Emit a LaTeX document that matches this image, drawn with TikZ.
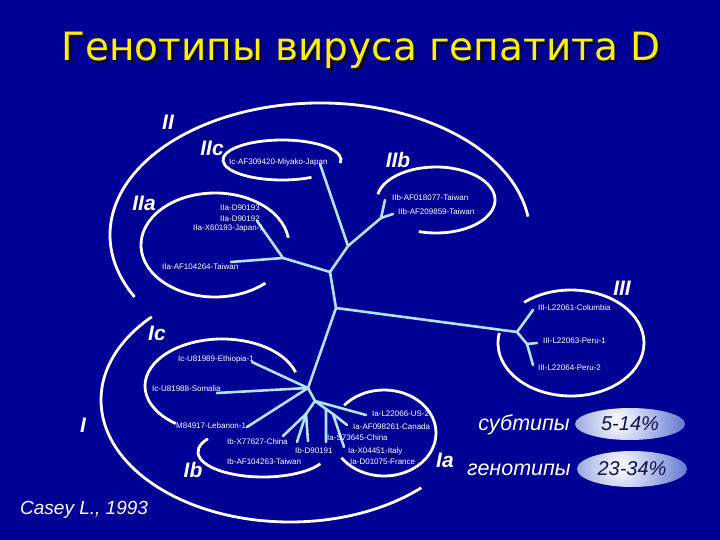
\documentclass[tikz,border=0pt]{standalone}
\usepackage{fontspec}
\setmainfont{Liberation Sans}
\newfontfamily\titlefont{DejaVu Sans}
\usetikzlibrary{shapes.geometric}
\definecolor{bg}{RGB}{0,0,148}
\definecolor{tree}{RGB}{175,228,250}
\definecolor{ttl}{RGB}{255,240,0}
\definecolor{ttlshadow}{RGB}{10,10,40}
\definecolor{pct}{RGB}{15,15,85}
\definecolor{pctblue}{RGB}{70,95,200}
\newcommand{\ttltext}{Генотипы вируса гепатита D}
\begin{document}
\begin{tikzpicture}[x=1pt,y=-1pt,
  arcline/.style={draw=white, line width=2.8pt},
  branch/.style={draw=tree, line width=2.6pt, line cap=round, line join=round},
  leaf/.style={font=\fontsize{8}{9}\selectfont, text=white, inner sep=0pt, anchor=west},
  grp/.style={font=\fontsize{21}{24}\selectfont\bfseries\itshape, text=white, inner sep=0pt},
  side/.style={font=\fontsize{21.5}{24}\selectfont\itshape, text=white, inner sep=0pt, anchor=east},
  pctoval/.style={ellipse, minimum width=110pt, inner sep=0pt,
    path picture={\shade[inner color=white, outer color=pctblue]
      ([xshift=-12pt,yshift=3pt]path picture bounding box.center) circle (80pt);}},
  pcttext/.style={font=\fontsize{20}{24}\selectfont\itshape, text=pct}
]
\useasboundingbox (0,0) rectangle (720,540);
\fill[bg] (0,0) rectangle (720,540);

% title (with its shadow in the same node)
\node[font=\titlefont\fontsize{39}{46}\selectfont, inner sep=0pt] (title) at (361,52)
  {\makebox[0pt][l]{\hspace{2.5pt}\raisebox{-2.5pt}{\color{ttlshadow}\ttltext}}\color{ttl}\ttltext};

% group arcs
\draw[arcline] (320,235) ++(-8:210 and 132) arc[start angle=-8, end angle=-208, x radius=210, y radius=132];
\draw[arcline] (282,160) ++(9:59 and 20) arc[start angle=9, end angle=-300, x radius=59, y radius=20];
\draw[arcline] (215,245) ++(-8:74 and 52) arc[start angle=-8, end angle=-313, x radius=74, y radius=52];
\draw[arcline] (436,200) ++(-170:59 and 33) arc[start angle=-170, end angle=107, x radius=59, y radius=33];
\draw[arcline] (571,343) ++(-130:73 and 53) arc[start angle=-130, end angle=191, x radius=73, y radius=53];
\draw[arcline] (290,400) ++(-137:189 and 122) arc[start angle=-137, end angle=-314, x radius=189, y radius=122];
\draw[arcline] (222,386) ++(-17:77 and 47) arc[start angle=-17, end angle=-233, x radius=77, y radius=47];
\draw[arcline] (263,452) ++(-148:65 and 25) arc[start angle=-148, end angle=-332, x radius=65, y radius=25];
\draw[arcline] (384,433) ++(-140:52 and 43) arc[start angle=-140, end angle=145, x radius=52, y radius=43];

% tree junctions and leaves
\coordinate (R1) at (330,272);
\coordinate (R2) at (336,308);
\coordinate (JII) at (348,246);
\coordinate (LIIc) at (320,164);
\coordinate (JIIb) at (381,218);
\coordinate (LIIb1) at (385,200);
\coordinate (LIIb2) at (393,214);
\coordinate (JIIa) at (283,258);
\coordinate (LIIa1) at (257,221);
\coordinate (LIIa2) at (231,262);
\coordinate (JIII) at (517,332);
\coordinate (LIII1) at (533,310);
\coordinate (JIII2) at (527,344);
\coordinate (LIII2) at (537,343);
\coordinate (LIII3) at (533,365);
\coordinate (JI) at (308,388);
\coordinate (LIc1) at (252,362);
\coordinate (LIc2) at (217,393);
\coordinate (LIc3) at (247,427);
\coordinate (JIab) at (315,401);
\coordinate (LIa1) at (366,415);
\coordinate (JIb) at (306,414);
\coordinate (LIb1) at (283,436);
\coordinate (LIb2) at (297,442);
\coordinate (LIb3) at (308,441);
\coordinate (JIa) at (326,409);
\coordinate (LIa2) at (326,442);
\coordinate (JIa2) at (333,414);
\coordinate (LIa3) at (347,425);
\coordinate (LIa4) at (344,447);

\draw[branch] (R2) -- (R1) -- (JII) -- (LIIc);
\draw[branch] (JII) -- (JIIb) -- (LIIb1);
\draw[branch] (JIIb) -- (LIIb2);
\draw[branch] (R1) -- (JIIa) -- (LIIa1);
\draw[branch] (JIIa) -- (LIIa2);
\draw[branch] (R2) -- (JIII) -- (LIII1);
\draw[branch] (JIII) -- (JIII2) -- (LIII2);
\draw[branch] (JIII2) -- (LIII3);
\draw[branch] (R2) -- (JI) -- (LIc1);
\draw[branch] (JI) -- (LIc2);
\draw[branch] (JI) -- (LIc3);
\draw[branch] (JI) -- (JIab) -- (LIa1);
\draw[branch] (JIab) -- (JIb) -- (LIb1);
\draw[branch] (JIb) -- (LIb2);
\draw[branch] (JIb) -- (LIb3);
\draw[branch] (JIab) -- (JIa) -- (LIa2);
\draw[branch] (JIa) -- (JIa2) -- (LIa3);
\draw[branch] (JIa2) -- (LIa4);

% leaf labels
\node[leaf] (tIIc) at (229,162) {Ic-AF309420-Miyako-Japan};
\node[leaf] (tIIa1) at (220,208) {IIa-D90193};
\node[leaf] (tIIa2) at (220,219) {IIa-D90192};
\node[leaf] (tIIa3) at (193,229) {IIa-X60193-Japan-1};
\node[leaf] (tIIa4) at (162,267) {IIa-AF104264-Taiwan};
\node[leaf] (tIIb1) at (392,198) {IIb-AF018077-Taiwan};
\node[leaf] (tIIb2) at (398,212) {IIb-AF209859-Taiwan};
\node[leaf] (tIII1) at (538,308) {III-L22061-Columbia};
\node[leaf] (tIII2) at (543,341) {III-L22063-Peru-1};
\node[leaf] (tIII3) at (538,368) {III-L22064-Peru-2};
\node[leaf] (tIc1) at (178,359) {Ic-U81989-Ethiopia-1};
\node[leaf] (tIc2) at (152,389) {Ic-U81988-Somalia};
\node[leaf] (tIc3) at (176,426) {M84917-Lebanon-1};
\node[leaf] (tIb1) at (227,442) {Ib-X77627-China};
\node[leaf] (tIb2) at (295,451) {Ib-D90191};
\node[leaf] (tIb3) at (227,462) {Ib-AF104263-Taiwan};
\node[leaf] (tIa1) at (372,414) {Ia-L22066-US-2};
\node[leaf] (tIa2) at (353,427) {Ia-AF098261-Canada};
\node[leaf] (tIa3) at (327,438) {Ia-S73645-China};
\node[leaf] (tIa4) at (348,451) {Ia-X04451-Italy};
\node[leaf] (tIa5) at (350,462) {Ia-D01075-France};

% group labels
\node[grp] (gII) at (168,122) {II};
\node[grp] (gIIc) at (212,148) {IIc};
\node[grp] (gIIa) at (144,203) {IIa};
\node[grp] (gIIb) at (398,160) {IIb};
\node[grp] (gIII) at (622,288) {III};
\node[grp] (gIc) at (157,333) {Ic};
\node[grp] (gI) at (83,425) {I};
\node[grp] (gIb) at (193,470) {Ib};
\node[grp] (gIa) at (445,460) {Ia};

% percentages
\node[side] (sub) at (570,425) {субтипы};
\node[side] (gen) at (571,470) {генотипы};
\node[pctoval, minimum height=32pt] (o1) at (630,424) {};
\node[pctoval, minimum height=36pt] (o2) at (632,469) {};
\node[pcttext] (p1) at (630,424) {5-14\%};
\node[pcttext] (p2) at (632,469) {23-34\%};

% source
\node[font=\fontsize{19}{22}\selectfont\itshape, text=white, inner sep=0pt, anchor=west] (src) at (20,510) {Casey L., 1993};
\end{tikzpicture}
\end{document}
